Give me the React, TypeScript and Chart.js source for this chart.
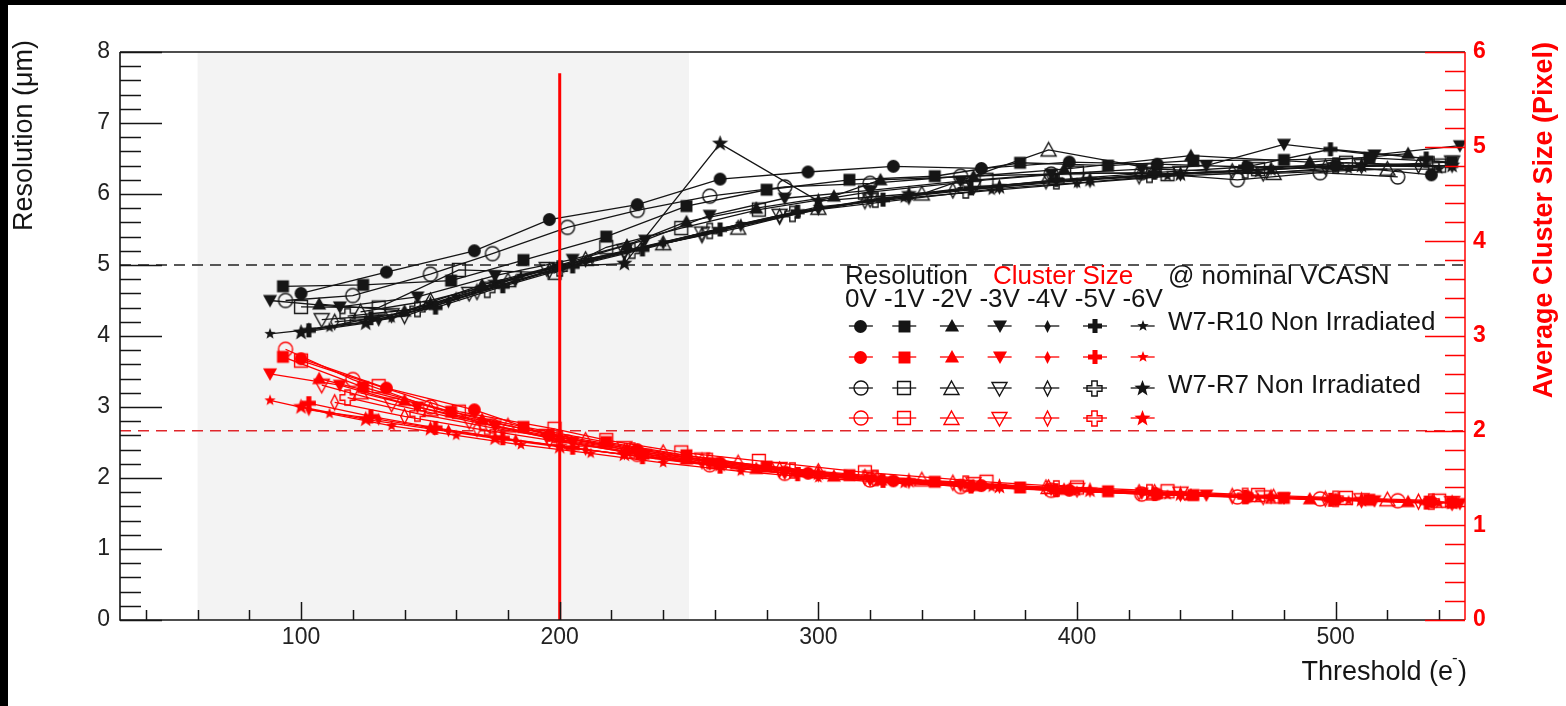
import React, { useEffect, useRef } from "react";
import { Chart, registerables } from "chart.js";

Chart.register(...registerables);

// ---------------- axis ranges & reference values ----------------
const THRESHOLD_RANGE = [30, 550];
const RESOLUTION_RANGE = [0, 8];
const CLUSTER_RANGE = [0, 6];
const SHADED_THRESHOLD = [60, 250];
const RESOLUTION_TARGET = 5;
const CLUSTER_TARGET = 2;
const THRESHOLD_MARK = 200;
const THRESHOLD_MARK_TOP = 7.7;
const X_TICK_STEP = 100;
const X_MINOR_STEP = 20;

const BIAS_LABELS = ["0V", "-1V", "-2V", "-3V", "-4V", "-5V", "-6V"];
const CHIP_LABELS = ["W7-R10 Non Irradiated", "W7-R7 Non Irradiated"];

// ---------------- W7-R10 (filled markers) ----------------
const thr_R10_0V = [100, 133, 167, 196, 230, 262, 296, 329, 363, 397, 431, 466, 500, 537];
const res_R10_0V = [4.6, 4.9, 5.2, 5.64, 5.85, 6.21, 6.31, 6.39, 6.36, 6.45, 6.42, 6.38, 6.4, 6.27];
const cs_R10_0V = [2.76, 2.45, 2.22, 1.95, 1.8, 1.66, 1.55, 1.47, 1.42, 1.37, 1.33, 1.3, 1.27, 1.25];

const thr_R10_m1V = [93, 124, 158, 186, 218, 249, 280, 312, 345, 378, 412, 445, 480, 513, 545];
const res_R10_m1V = [4.7, 4.72, 4.78, 5.07, 5.4, 5.83, 6.06, 6.2, 6.25, 6.44, 6.4, 6.47, 6.48, 6.51, 6.45];
const cs_R10_m1V = [2.78, 2.46, 2.2, 2.04, 1.88, 1.74, 1.62, 1.53, 1.46, 1.4, 1.36, 1.32, 1.29, 1.27, 1.24];

const thr_R10_m2V = [107, 140, 170, 200, 226, 249, 276, 306, 324, 360, 395, 444, 490, 528];
const res_R10_m2V = [4.45, 4.35, 4.72, 5.0, 5.28, 5.61, 5.8, 5.97, 6.2, 6.25, 6.35, 6.54, 6.45, 6.57];
const cs_R10_m2V = [2.55, 2.32, 2.12, 1.93, 1.8, 1.7, 1.6, 1.52, 1.48, 1.42, 1.38, 1.32, 1.28, 1.25];

const thr_R10_m3V = [88, 115, 145, 175, 205, 233, 258, 287, 320, 355, 390, 425, 450, 480, 515, 548];
const res_R10_m3V = [4.5, 4.41, 4.55, 4.85, 5.08, 5.35, 5.7, 5.94, 6.05, 6.18, 6.28, 6.35, 6.4, 6.7, 6.55, 6.68];
const cs_R10_m3V = [2.6, 2.48, 2.25, 2.05, 1.88, 1.75, 1.65, 1.55, 1.48, 1.42, 1.38, 1.34, 1.32, 1.29, 1.26, 1.23];

const thr_R10_m4V = [103, 130, 157, 183, 210, 240, 270, 300, 335, 370, 405, 440, 475, 510, 545];
const res_R10_m4V = [4.1, 4.22, 4.48, 4.78, 5.05, 5.3, 5.55, 5.78, 5.93, 6.08, 6.17, 6.28, 6.35, 6.4, 6.38];
const cs_R10_m4V = [2.22, 2.12, 2.0, 1.9, 1.8, 1.7, 1.6, 1.52, 1.45, 1.4, 1.36, 1.32, 1.29, 1.26, 1.24];

const thr_R10_m5V = [103, 127, 152, 178, 205, 232, 262, 292, 325, 359, 392, 430, 465, 498, 535];
const res_R10_m5V = [4.08, 4.25, 4.4, 4.7, 4.98, 5.22, 5.5, 5.75, 5.92, 6.08, 6.2, 6.3, 6.38, 6.63, 6.5];
const cs_R10_m5V = [2.29, 2.15, 2.03, 1.92, 1.82, 1.72, 1.62, 1.54, 1.47, 1.41, 1.37, 1.33, 1.3, 1.27, 1.24];

const thr_R10_m6V = [88, 111, 135, 160, 185, 212, 240, 270, 300, 333, 367, 400, 435, 470, 505, 540];
const res_R10_m6V = [4.03, 4.12, 4.25, 4.55, 4.85, 5.08, 5.32, 5.58, 5.82, 5.94, 6.05, 6.15, 6.25, 6.3, 6.35, 6.35];
const cs_R10_m6V = [2.32, 2.18, 2.05, 1.95, 1.85, 1.76, 1.66, 1.57, 1.5, 1.44, 1.4, 1.36, 1.32, 1.29, 1.26, 1.23];

// ---------------- W7-R7 (open markers) ----------------
const thr_R7_0V = [94, 120, 150, 174, 203, 230, 258, 287, 320, 355, 390, 425, 462, 494, 524];
const res_R7_0V = [4.5, 4.57, 4.87, 5.16, 5.53, 5.77, 5.97, 6.1, 6.15, 6.25, 6.28, 6.3, 6.2, 6.3, 6.24];
const cs_R7_0V = [2.86, 2.54, 2.25, 2.05, 1.88, 1.75, 1.64, 1.55, 1.48, 1.41, 1.37, 1.33, 1.3, 1.28, 1.26];

const thr_R7_m1V = [100, 130, 161, 198, 218, 247, 277, 318, 365, 400, 435, 470, 504, 540];
const res_R7_m1V = [4.41, 4.4, 4.93, 4.89, 5.25, 5.52, 5.78, 6.02, 6.2, 6.3, 6.28, 6.35, 6.44, 6.4];
const cs_R7_m1V = [2.74, 2.47, 2.2, 2.02, 1.9, 1.77, 1.68, 1.56, 1.46, 1.4, 1.36, 1.32, 1.29, 1.26];

const thr_R7_m2V = [123, 150, 180, 210, 240, 269, 300, 340, 389, 430, 476, 520];
const res_R7_m2V = [4.34, 4.5, 4.78, 5.08, 5.3, 5.52, 5.8, 6.0, 6.62, 6.35, 6.29, 6.35];
const cs_R7_m2V = [2.4, 2.22, 2.05, 1.9, 1.77, 1.66, 1.57, 1.48, 1.4, 1.35, 1.3, 1.27];

const thr_R7_m3V = [108, 135, 165, 195, 225, 255, 285, 320, 360, 400, 440, 472, 510, 545];
const res_R7_m3V = [4.23, 4.3, 4.6, 4.95, 5.2, 5.45, 5.7, 5.92, 6.1, 6.2, 6.3, 6.29, 6.4, 6.45];
const cs_R7_m3V = [2.48, 2.28, 2.1, 1.95, 1.82, 1.7, 1.6, 1.51, 1.44, 1.38, 1.34, 1.3, 1.27, 1.24];

const thr_R7_m4V = [113, 140, 168, 196, 225, 255, 285, 318, 352, 388, 424, 460, 496, 532];
const res_R7_m4V = [4.2, 4.28, 4.62, 4.92, 5.18, 5.42, 5.68, 5.9, 6.05, 6.18, 6.25, 6.32, 6.38, 6.4];
const cs_R7_m4V = [2.3, 2.15, 2.02, 1.9, 1.78, 1.68, 1.59, 1.51, 1.45, 1.4, 1.35, 1.31, 1.28, 1.25];

const thr_R7_m5V = [118, 145, 172, 200, 228, 258, 290, 322, 357, 392, 428, 465, 500, 537];
const res_R7_m5V = [4.28, 4.38, 4.65, 4.95, 5.2, 5.48, 5.72, 5.92, 6.05, 6.18, 6.27, 6.33, 6.4, 6.42];
const cs_R7_m5V = [2.35, 2.18, 2.04, 1.91, 1.79, 1.68, 1.58, 1.5, 1.44, 1.39, 1.35, 1.31, 1.28, 1.25];

const thr_R7_m6V = [100, 125, 150, 175, 200, 225, 262, 300, 335, 370, 405, 440, 475, 510, 545];
const res_R7_m6V = [4.05, 4.18, 4.45, 4.75, 4.98, 5.02, 6.71, 5.9, 6.0, 6.1, 6.2, 6.28, 6.35, 6.4, 6.4];
const cs_R7_m6V = [2.25, 2.12, 2.02, 1.92, 1.83, 1.75, 1.64, 1.55, 1.47, 1.41, 1.37, 1.33, 1.3, 1.27, 1.24];

// ---------------- styling ----------------
const FONT = '"Liberation Sans", Arial, Helvetica, sans-serif';
const RED = "#ff0000";
const INK = "#151515";

type Kind = "circle" | "square" | "triUp" | "triDown" | "diamond" | "cross" | "star";

const MARKERS_R10: { kind: Kind; size: number; filled: boolean }[] = [
  { kind: "circle", size: 13, filled: true },
  { kind: "square", size: 13, filled: true },
  { kind: "triUp", size: 14, filled: true },
  { kind: "triDown", size: 14, filled: true },
  { kind: "diamond", size: 13, filled: true },
  { kind: "cross", size: 14, filled: true },
  { kind: "star", size: 12, filled: true },
];
const MARKERS_R7: { kind: Kind; size: number; filled: boolean }[] = [
  { kind: "circle", size: 14, filled: false },
  { kind: "square", size: 14, filled: false },
  { kind: "triUp", size: 15, filled: false },
  { kind: "triDown", size: 15, filled: false },
  { kind: "diamond", size: 15, filled: false },
  { kind: "cross", size: 15, filled: false },
  { kind: "star", size: 17, filled: true },
];

const R10_SERIES = [
  { thr: thr_R10_0V, res: res_R10_0V, cs: cs_R10_0V },
  { thr: thr_R10_m1V, res: res_R10_m1V, cs: cs_R10_m1V },
  { thr: thr_R10_m2V, res: res_R10_m2V, cs: cs_R10_m2V },
  { thr: thr_R10_m3V, res: res_R10_m3V, cs: cs_R10_m3V },
  { thr: thr_R10_m4V, res: res_R10_m4V, cs: cs_R10_m4V },
  { thr: thr_R10_m5V, res: res_R10_m5V, cs: cs_R10_m5V },
  { thr: thr_R10_m6V, res: res_R10_m6V, cs: cs_R10_m6V },
];
const R7_SERIES = [
  { thr: thr_R7_0V, res: res_R7_0V, cs: cs_R7_0V },
  { thr: thr_R7_m1V, res: res_R7_m1V, cs: cs_R7_m1V },
  { thr: thr_R7_m2V, res: res_R7_m2V, cs: cs_R7_m2V },
  { thr: thr_R7_m3V, res: res_R7_m3V, cs: cs_R7_m3V },
  { thr: thr_R7_m4V, res: res_R7_m4V, cs: cs_R7_m4V },
  { thr: thr_R7_m5V, res: res_R7_m5V, cs: cs_R7_m5V },
  { thr: thr_R7_m6V, res: res_R7_m6V, cs: cs_R7_m6V },
];

function makeMarker(kind: Kind, filled: boolean, color: string, size: number): HTMLCanvasElement {
  const S = Math.ceil(size) + 4;
  const c = document.createElement("canvas");
  c.width = S;
  c.height = S;
  const g = c.getContext("2d")!;
  g.translate(S / 2, S / 2);
  const r = size / 2;
  g.beginPath();
  switch (kind) {
    case "circle":
      g.arc(0, 0, r, 0, Math.PI * 2);
      break;
    case "square":
      g.rect(-r * 0.92, -r * 0.92, r * 1.84, r * 1.84);
      break;
    case "triUp":
      g.moveTo(0, -r);
      g.lineTo(r, r * 0.8);
      g.lineTo(-r, r * 0.8);
      g.closePath();
      break;
    case "triDown":
      g.moveTo(0, r);
      g.lineTo(r, -r * 0.8);
      g.lineTo(-r, -r * 0.8);
      g.closePath();
      break;
    case "diamond":
      g.moveTo(0, -r);
      g.lineTo(r * 0.5, 0);
      g.lineTo(0, r);
      g.lineTo(-r * 0.5, 0);
      g.closePath();
      break;
    case "cross": {
      const a = r * 0.36;
      g.moveTo(-a, -r);
      g.lineTo(a, -r);
      g.lineTo(a, -a);
      g.lineTo(r, -a);
      g.lineTo(r, a);
      g.lineTo(a, a);
      g.lineTo(a, r);
      g.lineTo(-a, r);
      g.lineTo(-a, a);
      g.lineTo(-r, a);
      g.lineTo(-r, -a);
      g.lineTo(-a, -a);
      g.closePath();
      break;
    }
    case "star": {
      const inner = r * 0.42;
      for (let i = 0; i < 10; i++) {
        const ang = -Math.PI / 2 + (i * Math.PI) / 5;
        const rr = i % 2 === 0 ? r : inner;
        const px = Math.cos(ang) * rr;
        const py = Math.sin(ang) * rr;
        if (i === 0) g.moveTo(px, py);
        else g.lineTo(px, py);
      }
      g.closePath();
      break;
    }
  }
  if (filled) {
    g.fillStyle = color;
    g.fill();
  } else {
    g.strokeStyle = color;
    g.lineWidth = 1.4;
    g.stroke();
  }
  return c;
}

function drawTitleAndLegend(chart: any) {
  const { ctx, chartArea: a } = chart;
  ctx.save();
  ctx.textBaseline = "middle";

  // legend
  const lx = a.left + 725;
  const legendFont = `26px ${FONT}`;
  ctx.font = legendFont;
  ctx.textAlign = "left";
  ctx.fillStyle = INK;
  ctx.fillText("Resolution", lx, a.top + 225);
  ctx.fillStyle = RED;
  ctx.fillText("Cluster Size", lx + 148, a.top + 225);
  ctx.fillStyle = INK;
  ctx.fillText("@ nominal VCASN", lx + 323, a.top + 225);

  const biasText = BIAS_LABELS.join(" ");
  ctx.fillText(biasText, lx, a.top + 248);
  const centers: number[] = [];
  let cursor = lx;
  BIAS_LABELS.forEach((lab, i) => {
    const w = ctx.measureText(lab).width;
    centers.push(cursor + w / 2);
    cursor += w + (i < BIAS_LABELS.length - 1 ? ctx.measureText(" ").width : 0);
  });

  const rows = [
    { markers: MARKERS_R10, color: INK, y: a.top + 274 },
    { markers: MARKERS_R10, color: RED, y: a.top + 305 },
    { markers: MARKERS_R7, color: INK, y: a.top + 336 },
    { markers: MARKERS_R7, color: RED, y: a.top + 366 },
  ];
  rows.forEach((row) => {
    row.markers.forEach((m, i) => {
      const cx = centers[i];
      ctx.strokeStyle = row.color;
      ctx.lineWidth = 1.3;
      ctx.beginPath();
      ctx.moveTo(cx - 12, row.y);
      ctx.lineTo(cx + 12, row.y);
      ctx.stroke();
      const img = makeMarker(m.kind, m.filled, row.color, m.size);
      ctx.drawImage(img, Math.round(cx - img.width / 2), Math.round(row.y - img.height / 2));
    });
  });
  ctx.fillStyle = INK;
  ctx.fillText(CHIP_LABELS[0], lx + 323, a.top + 271);
  ctx.fillText(CHIP_LABELS[1], lx + 323, a.top + 334);

  // axis titles
  const titleFont = `27px ${FONT}`;
  ctx.font = titleFont;
  ctx.fillStyle = INK;
  ctx.save();
  ctx.translate(25, a.top - 12);
  ctx.rotate(-Math.PI / 2);
  ctx.textAlign = "right";
  ctx.fillText("Resolution (\u03bcm)", 0, 0);
  ctx.restore();

  ctx.save();
  ctx.font = `bold 27px ${FONT}`;
  ctx.fillStyle = RED;
  ctx.translate(1545, a.top - 10);
  ctx.rotate(-Math.PI / 2);
  ctx.textAlign = "right";
  ctx.fillText("Average Cluster Size (Pixel)", 0, 0);
  ctx.restore();

  // x title with superscript
  ctx.textBaseline = "alphabetic";
  ctx.textAlign = "left";
  ctx.font = titleFont;
  const base = a.bottom + 60;
  const right = a.right + 2;
  const wClose = ctx.measureText(")").width;
  const wMain = ctx.measureText("Threshold (e").width;
  const supGap = 5;
  const x0 = right - wClose - supGap - wMain;
  ctx.fillText("Threshold (e", x0, base);
  ctx.fillText(")", x0 + wMain + supGap, base);
  ctx.font = `17px ${FONT}`;
  ctx.fillText("-", x0 + wMain - 1, base - 17);
  ctx.restore();
}

const decorPlugin = {
  id: "rootDecor",
  beforeDraw(chart: any) {
    const { ctx, width, height, chartArea: a, scales } = chart;
    ctx.save();
    ctx.fillStyle = "#ffffff";
    ctx.fillRect(0, 0, width, height);
    ctx.fillStyle = "#000000";
    ctx.fillRect(0, 0, width, 5);
    ctx.fillRect(0, 0, 8, height);
    const xs = scales.x;
    const xa = xs.getPixelForValue(SHADED_THRESHOLD[0]);
    const xb = xs.getPixelForValue(SHADED_THRESHOLD[1]);
    ctx.fillStyle = "#f3f3f3";
    ctx.fillRect(xa, a.top, xb - xa, a.bottom - a.top);
    ctx.restore();
  },
  beforeDatasetsDraw(chart: any) {
    const { ctx, chartArea: a, scales } = chart;
    ctx.save();
    ctx.setLineDash([11, 7]);
    ctx.lineWidth = 1.5;
    const yb = scales.y.getPixelForValue(RESOLUTION_TARGET);
    ctx.strokeStyle = "#222";
    ctx.beginPath();
    ctx.moveTo(a.left, yb);
    ctx.lineTo(a.right, yb);
    ctx.stroke();
    const yr = scales.y2.getPixelForValue(CLUSTER_TARGET);
    ctx.strokeStyle = "#e0262b";
    ctx.beginPath();
    ctx.moveTo(a.left, yr);
    ctx.lineTo(a.right, yr);
    ctx.stroke();
    ctx.restore();
  },
  afterDatasetsDraw(chart: any) {
    const { ctx, chartArea: a, scales } = chart;
    const xs = scales.x;
    const ys = scales.y;
    const y2 = scales.y2;
    ctx.save();
    // red threshold marker
    const xm = xs.getPixelForValue(THRESHOLD_MARK);
    ctx.strokeStyle = RED;
    ctx.lineWidth = 3;
    ctx.beginPath();
    ctx.moveTo(xm, ys.getPixelForValue(RESOLUTION_RANGE[0]));
    ctx.lineTo(xm, ys.getPixelForValue(THRESHOLD_MARK_TOP));
    ctx.stroke();

    // frame
    ctx.lineWidth = 1.6;
    ctx.strokeStyle = INK;
    ctx.beginPath();
    ctx.moveTo(a.left, a.top);
    ctx.lineTo(a.right, a.top);
    ctx.moveTo(a.left, a.top);
    ctx.lineTo(a.left, a.bottom);
    ctx.lineTo(a.right, a.bottom);
    ctx.stroke();

    // left ticks
    ctx.lineWidth = 1.5;
    for (let k = 0; k <= 40; k++) {
      const v = RESOLUTION_RANGE[0] + k * 0.2;
      const y = Math.round(ys.getPixelForValue(v)) + 0.5;
      const len = k % 5 === 0 ? 42 : 21;
      ctx.beginPath();
      ctx.moveTo(a.left, y);
      ctx.lineTo(a.left + len, y);
      ctx.stroke();
    }
    // bottom ticks
    for (let v = 40; v < THRESHOLD_RANGE[1]; v += X_MINOR_STEP) {
      const x = Math.round(xs.getPixelForValue(v)) + 0.5;
      const len = v % X_TICK_STEP === 0 ? 18 : 10;
      ctx.beginPath();
      ctx.moveTo(x, a.bottom);
      ctx.lineTo(x, a.bottom - len);
      ctx.stroke();
    }
    // right axis (red)
    ctx.strokeStyle = RED;
    ctx.beginPath();
    ctx.moveTo(a.right, a.top);
    ctx.lineTo(a.right, a.bottom);
    ctx.stroke();
    for (let k = 0; k <= 30; k++) {
      const v = CLUSTER_RANGE[0] + k * 0.2;
      const y = Math.round(y2.getPixelForValue(v)) + 0.5;
      const len = k % 5 === 0 ? 40 : 20;
      ctx.beginPath();
      ctx.moveTo(a.right, y);
      ctx.lineTo(a.right - len, y);
      ctx.stroke();
    }
    ctx.restore();
    drawTitleAndLegend(chart);
  },
};

function buildDatasets() {
  const sets: any[] = [];
  const add = (series: typeof R10_SERIES, markers: typeof MARKERS_R10) => {
    series.forEach((s, i) => {
      const m = markers[i];
      sets.push({
        data: s.thr.map((x, j) => ({ x, y: s.res[j] })),
        yAxisID: "y",
        borderColor: INK,
        borderWidth: 1.3,
        pointStyle: makeMarker(m.kind, m.filled, INK, m.size),
        pointRadius: 6,
        tension: 0,
        fill: false,
      });
      sets.push({
        data: s.thr.map((x, j) => ({ x, y: s.cs[j] })),
        yAxisID: "y2",
        borderColor: RED,
        borderWidth: 1.3,
        pointStyle: makeMarker(m.kind, m.filled, RED, m.size),
        pointRadius: 6,
        tension: 0,
        fill: false,
      });
    });
  };
  add(R10_SERIES, MARKERS_R10);
  add(R7_SERIES, MARKERS_R7);
  return sets;
}

export default function App() {
  const ref = useRef<HTMLCanvasElement | null>(null);
  useEffect(() => {
    if (!ref.current) return;
    Chart.defaults.font.family = FONT;
    const chart = new Chart(ref.current, {
      type: "line",
      data: { datasets: buildDatasets() },
      options: {
        animation: false,
        responsive: false,
        events: [],
        layout: { padding: { top: 52, left: 0, right: 0, bottom: 0 } },
        plugins: { legend: { display: false }, tooltip: { enabled: false } },
        scales: {
          x: {
            type: "linear",
            position: "bottom",
            min: THRESHOLD_RANGE[0],
            max: THRESHOLD_RANGE[1],
            grid: { display: false, drawTicks: false },
            border: { display: false },
            ticks: {
              stepSize: X_TICK_STEP,
              includeBounds: false,
              autoSkip: false,
              maxRotation: 0,
              color: "#222",
              padding: 4,
              font: { size: 23 },
            },
            afterFit: (s: any) => {
              s.height = 86;
            },
          },
          y: {
            type: "linear",
            position: "left",
            min: RESOLUTION_RANGE[0],
            max: RESOLUTION_RANGE[1],
            grid: { display: false, drawTicks: false },
            border: { display: false },
            ticks: { stepSize: 1, color: "#222", padding: 10, font: { size: 23 } },
            afterFit: (s: any) => {
              s.width = 120;
            },
          },
          y2: {
            type: "linear",
            position: "right",
            min: CLUSTER_RANGE[0],
            max: CLUSTER_RANGE[1],
            grid: { display: false, drawTicks: false },
            border: { display: false },
            ticks: { stepSize: 1, color: RED, padding: 8, font: { size: 23, weight: "bold" } },
            afterFit: (s: any) => {
              s.width = 101;
            },
          },
        },
      } as any,
      plugins: [decorPlugin],
    });
    return () => chart.destroy();
  }, []);
  return (
    <div style={{ position: "fixed", left: 0, top: 0, width: 1566, height: 706, background: "#fff" }}>
      <canvas ref={ref} width={1566} height={706} style={{ display: "block", width: 1566, height: 706 }} />
    </div>
  );
}
